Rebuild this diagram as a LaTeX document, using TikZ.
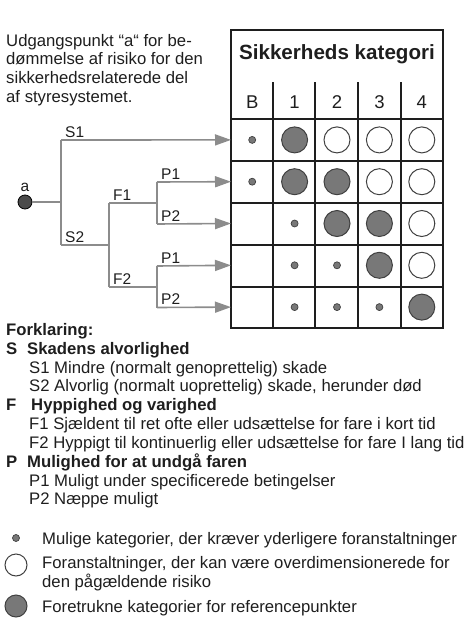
\documentclass[tikz,border=0pt]{standalone}
\usepackage{fontspec}
\setmainfont{Liberation Sans}
\usetikzlibrary{arrows.meta}
\definecolor{ink}{HTML}{1E1E1E}
\definecolor{linegray}{HTML}{8C8C8C}
\definecolor{fillgray}{HTML}{787878}
\definecolor{dotdark}{HTML}{4A4A4A}

\begin{document}
\begin{tikzpicture}[x=1pt, y=-1pt,
  txt/.style={anchor=base west, inner sep=0pt, text=ink, font=\fontsize{16.7}{18.8}\selectfont},
  bold/.style={txt, font=\fontsize{16.7}{18.8}\selectfont\bfseries},
  lbl/.style={anchor=base west, inner sep=0pt, xshift=4pt, yshift=3pt, text=ink, font=\fontsize{15.5}{18}\selectfont},
  branch/.style={draw=linegray, line width=1.6pt},
  into/.style={branch, -{Triangle[length=16pt, width=11pt]}},
  rule/.style={draw=ink, line width=1.1pt},
  frame/.style={draw=ink, line width=2pt},
  risks/.style={circle, draw=ink!85, line width=0.7pt, fill=fillgray, minimum size=7pt, inner sep=0pt},
  riskf/.style={circle, draw=ink!85, line width=1pt, fill=fillgray, minimum size=26pt, inner sep=0pt},
  risko/.style={circle, draw=ink!85, line width=1pt, fill=white, minimum size=26pt, inner sep=0pt},
  riskn/.style={inner sep=0pt, minimum size=0pt}]
\useasboundingbox (0,0) rectangle (471,635);

% Intro text
\foreach \t [count=\i] in {Udgangspunkt “a“ for be-, dømmelse af risiko for den, sikkerhedsrelaterede del, af styresystemet.} {
  \node[txt] (intro\i) at (6,{46+18.8*(\i-1)}) {\t};
}

% Table
\draw[rule] (231,119) -- (443,119);
\foreach \y in {161,203,245,287} {
  \draw[rule] (231,\y) -- (443,\y);
}
\foreach \x in {273,315,358,401} {
  \draw[rule] (\x,82) -- (\x,328);
}
\draw[frame] (231,30) rectangle (443,328);
\draw[frame] (231,119) -- (443,119);
\node[text=ink, font=\fontsize{20.6}{24}\selectfont\bfseries] (title) at (337,54) {Sikkerheds kategori};
\foreach \h [count=\c] in {B,1,2,3,4} {
  \node[text=ink, font=\fontsize{18.5}{22}\selectfont] (col\c) at ({231+42.4*(\c-0.5)},102) {\h};
}
\foreach \r in {1,...,5} {
  \coordinate (row\r) at (231,{119+41.8*(\r-0.5)});
}

% Cells
\foreach \marks [count=\r] in {{s,f,o,o,o},{s,f,f,o,o},{n,s,f,f,o},{n,s,s,f,o},{n,s,s,s,f}} {
  \foreach \m [count=\c] in \marks {
    \node[risk\m] (c\r\c) at ({231+42.4*(\c-0.5)},{119+41.8*(\r-0.5)}) {};
  }
}

% Risk graph
\node[circle, draw=black, fill=dotdark, minimum size=14pt, inner sep=0pt, line width=0.8pt] (a) at (25,202) {};
\node[anchor=base, inner sep=0pt, text=ink, font=\fontsize{15.5}{18}\selectfont] (alabel) at (25,191) {a};
\coordinate (s) at (61,202);
\coordinate (s1) at (61,140);
\coordinate (s2) at (61,245);
\coordinate (f) at (109,245);
\coordinate (f1) at (109,203);
\coordinate (f2) at (109,287);
\coordinate (f1p) at (157,203);
\coordinate (f1p1) at (157,182);
\coordinate (f1p2) at (157,224);
\coordinate (f2p) at (157,287);
\coordinate (f2p1) at (157,266);
\coordinate (f2p2) at (157,307.5);

\draw[branch] (a) -- (s);
\draw[branch] (s1) -- (s2);
\draw[branch] (s2) -- (f);
\draw[branch] (f1) -- (f2);
\draw[branch] (f1) -- (f1p);
\draw[branch] (f2) -- (f2p);
\draw[branch] (f1p1) -- (f1p2);
\draw[branch] (f2p1) -- (f2p2);
\draw[into] (s1) -- (row1);
\draw[into] (f1p1) -- (row2);
\draw[into] (f1p2) -- (row3);
\draw[into] (f2p1) -- (row4);
\draw[into] (f2p2) -- (row5);

\node[lbl] (ls1) at (s1) {S1};
\node[lbl] (ls2) at (s2) {S2};
\node[lbl] (lf1) at (f1) {F1};
\node[lbl] (lf2) at (f2) {F2};
\node[lbl] (lp11) at (f1p1) {P1};
\node[lbl] (lp12) at (f1p2) {P2};
\node[lbl] (lp21) at (f2p1) {P1};
\node[lbl] (lp22) at (f2p2) {P2};

% Explanation
\node[bold] (forkl) at (6,335) {Forklaring:};
\foreach \k/\head/\y/\dx in {S/Skadens alvorlighed/354/21, F/Hyppighed og varighed/410.5/25, P/Mulighed for at undgå faren/467/21} {
  \node[bold] (key\k) at (6,\y) {\k};
  \node[bold] (head\k) at ({6+\dx},\y) {\head};
}
\foreach \t/\y [count=\i] in {{S1 Mindre (normalt genoprettelig) skade}/373, {S2 Alvorlig (normalt uoprettelig) skade, herunder død}/391.5, {F1 Sjældent til ret ofte eller udsættelse for fare i kort tid}/429, {F2 Hyppigt til kontinuerlig eller udsættelse for fare I lang tid}/448, {P1 Muligt under specificerede betingelser}/486, {P2 Næppe muligt}/504.5} {
  \node[txt] (sub\i) at (29,\y) {\t};
}

% Symbols
\node[risks] (keysmall) at (16,538) {};
\node[risko, minimum size=22pt] (keyopen) at (16,565) {};
\node[riskf, minimum size=22pt] (keyfull) at (16,606) {};
\node[txt] (tsmall) at (42,544) {Mulige kategorier, der kræver yderligere foranstaltninger};
\node[txt] (topen1) at (42,568) {Foranstaltninger, der kan være overdimensionerede for};
\node[txt] (topen2) at (42,587) {den pågældende risiko};
\node[txt] (tfull) at (42,612) {Foretrukne kategorier for referencepunkter};
\end{tikzpicture}
\end{document}
